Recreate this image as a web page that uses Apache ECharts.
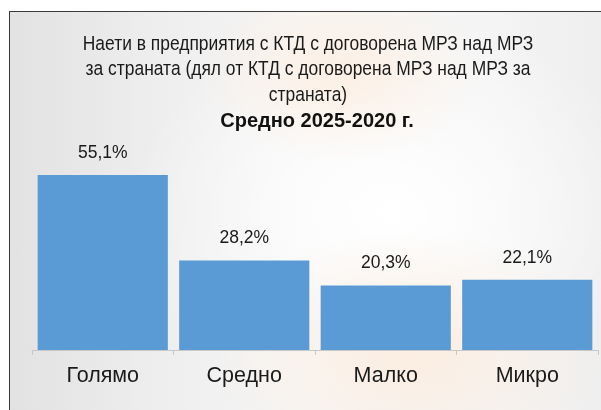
<!DOCTYPE html>
<html><head><meta charset="utf-8">
<script src="https://cdn.jsdelivr.net/npm/echarts@6/dist/echarts.min.js"></script>
<style>
html,body{margin:0;padding:0;width:601px;height:410px;overflow:hidden;background:#fff;}
#frame{position:absolute;left:9px;top:11px;width:600px;height:410px;border-left:1.5px solid #3a3a3a;border-top:1.5px solid #3a3a3a;
background:
 radial-gradient(ellipse 140px 90px at 330px 60px, rgba(253,238,225,0.9) 0%, rgba(253,240,230,0) 100%),
 radial-gradient(ellipse 200px 120px at 400px 340px, rgba(252,236,222,0.9) 0%, rgba(252,240,230,0) 100%),
 radial-gradient(ellipse 260px 200px at 380px 200px, rgba(255,255,255,1) 0%, rgba(255,255,255,0) 100%),
 linear-gradient(90deg,#e2e2e2 0%,#eeeeee 25%,#f6f6f6 50%,#f4f4f4 80%,#eeeeee 100%);}
#c{position:absolute;left:0;top:0;width:601px;height:410px;}
</style></head>
<body><div id="frame"></div><div id="c"></div>
<script>
const categories = ['Голямо', 'Средно', 'Малко', 'Микро'];
const values = [55.1, 28.2, 20.3, 22.1];
const titleLines = ['Наети в предприятия с КТД с договорена МРЗ над МРЗ', 'за страната (дял от КТД с договорена МРЗ над МРЗ за', 'страната)'];
const subtitle = 'Средно 2025-2020 г.';

const titleY = [44.5, 69.5, 95];

const chart = echarts.init(document.getElementById('c'), null, {renderer:'canvas'});
chart.setOption({
  backgroundColor: 'transparent',
  animation: false,
  graphic: titleLines.map((t, i) => ({
    type: 'text', x: 308, y: titleY[i], scaleX: 0.85,
    style: {text: t, fontFamily: 'Liberation Sans', fontSize: 20.5, fill: '#1a1a1a', align: 'center', verticalAlign: 'middle'}
  })).concat([{
    type: 'text', x: 317, y: 121.5,
    style: {text: subtitle, fontFamily: 'Liberation Sans', fontWeight: 'bold', fontSize: 20, fill: '#111', align: 'center', verticalAlign: 'middle'}
  }]),
  grid: {left: 32, right: 3, top: 159.4, bottom: 60, containLabel: false},
  xAxis: {
    type: 'category', data: categories,
    axisLine: {lineStyle:{color:'#c8c8c8', width:1}},
    axisTick: {show:true, length:5, lineStyle:{color:'#c8c8c8'}},
    axisLabel: {fontFamily:'Liberation Sans', fontSize:21.5, color:'#1a1a1a', margin:15}
  },
  yAxis: {type:'value', min:0, max:60, show:false, splitLine:{show:false}},
  series: [{
    type: 'bar', data: values, barCategoryGap: '8%',
    itemStyle: {color:'#5b9bd5'},
    label: {show:true, position:'top', distance:13, fontFamily: 'Liberation Sans', fontSize:17.5, color:'#1a1a1a',
      formatter: p => p.value.toFixed(1).replace('.', ',') + '%'}
  }]
});
</script></body></html>
